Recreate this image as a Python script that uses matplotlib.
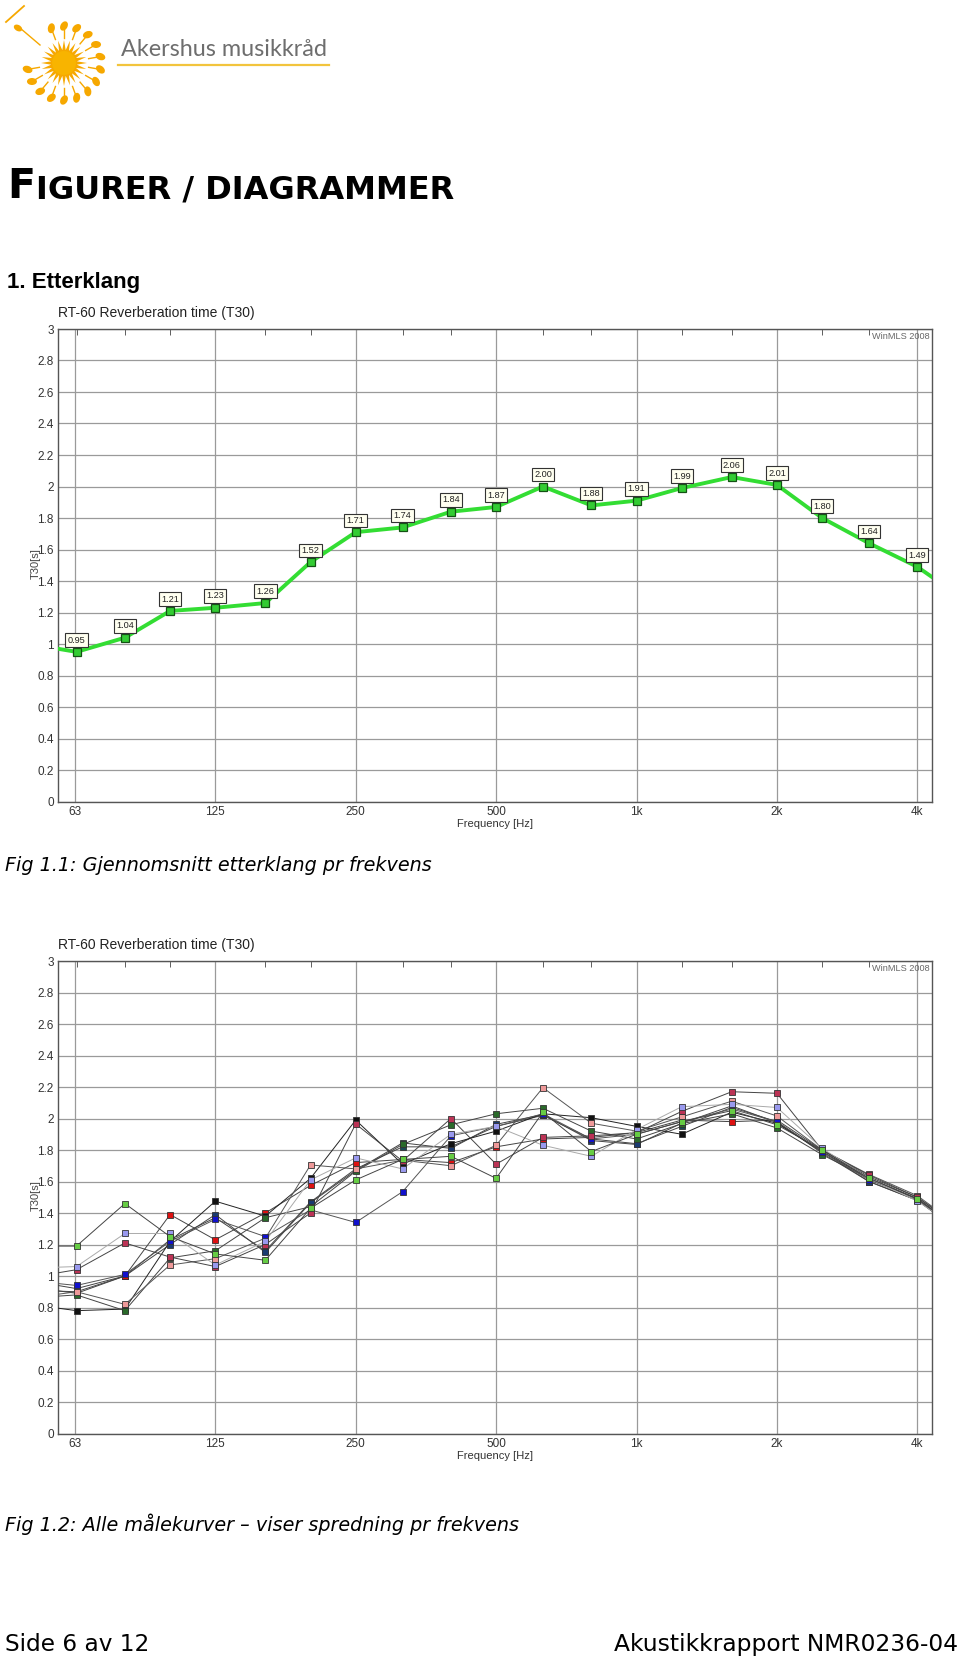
import numpy as np
import matplotlib
matplotlib.use("Agg")
import matplotlib.pyplot as plt
from matplotlib.patches import Ellipse, Polygon

# 1/3-octave bands (50 Hz and 5 kHz only give the clipped line ends)
freqs = [50, 63, 80, 100, 125, 160, 200, 250, 315, 400, 500, 630, 800,
         1000, 1250, 1600, 2000, 2500, 3150, 4000, 5000]
oct_ticks = [62.5, 125, 250, 500, 1000, 2000, 4000]
oct_labels = ["63", "125", "250", "500", "1k", "2k", "4k"]

# Fig 1.1 - average T30
avg_t30 = [1.00, 0.95, 1.04, 1.21, 1.23, 1.26, 1.52, 1.71, 1.74, 1.84, 1.87,
           2.00, 1.88, 1.91, 1.99, 2.06, 2.01, 1.80, 1.64, 1.49, 1.29]

# Fig 1.2 - all measurement curves
light_green = [1.19, 1.19, 1.46, 1.25, 1.14, 1.10, 1.43, 1.61, 1.74, 1.76, 1.62,
               2.04, 1.79, 1.90, 1.98, 2.05, 1.96, 1.80, 1.62, 1.49, 1.28]
light_purple = [1.05, 1.06, 1.27, 1.27, 1.07, 1.22, 1.61, 1.75, 1.68, 1.90, 1.95,
                1.83, 1.76, 1.93, 2.075, 2.09, 2.07, 1.81, 1.62, 1.476, 1.28]
crimson = [0.99, 1.04, 1.21, 1.12, 1.06, 1.20, 1.40, 1.965, 1.73, 2.00, 1.71,
           1.88, 1.89, 1.91, 2.045, 2.17, 2.16, 1.80, 1.64, 1.50, 1.30]
blue = [0.97, 0.94, 1.01, 1.22, 1.36, 1.25, 1.42, 1.34, 1.535, 1.89, 1.95,
        2.03, 1.87, 1.90, 1.98, 2.06, 1.98, 1.79, 1.61, 1.49, 1.27]
salmon = [0.86, 0.90, 0.82, 1.07, 1.11, 1.24, 1.705, 1.68, 1.735, 1.70, 1.83,
          2.196, 1.97, 1.92, 2.01, 2.11, 2.016, 1.80, 1.645, 1.51, 1.30]
dark_green = [0.86, 0.88, 0.78, 1.115, 1.16, 1.37, 1.44, 1.665, 1.835, 1.96, 2.03,
              2.065, 1.92, 1.87, 1.967, 2.03, 1.94, 1.77, 1.62, 1.49, 1.28]
black = [0.82, 0.78, 0.79, 1.22, 1.475, 1.38, 1.62, 1.99, 1.71, 1.84, 1.92,
         2.03, 2.005, 1.95, 1.90, 2.04, 1.97, 1.79, 1.62, 1.49, 1.28]
red = [0.91, 0.90, 1.00, 1.39, 1.23, 1.40, 1.575, 1.72, 1.74, 1.72, 1.82,
       1.87, 1.88, 1.91, 1.99, 1.98, 1.99, 1.80, 1.63, 1.50, 1.29]
navy = [0.93, 0.89, 1.00, 1.20, 1.39, 1.15, 1.465, 1.67, 1.845, 1.81, 1.963,
        2.025, 1.86, 1.835, 1.97, 2.08, 1.974, 1.79, 1.60, 1.48, 1.27]
teal = [0.97, 0.92, 1.00, 1.23, 1.37, 1.16, 1.47, 1.68, 1.82, 1.82, 1.95,
        2.02, 1.87, 1.84, 1.95, 2.07, 1.98, 1.78, 1.60, 1.48, 1.27]

curves = [
    (teal, "#1a4a55", "#444444"),
    (navy, "#1a3a70", "#444444"),
    (red, "#dd1111", "#444444"),
    (black, "#111111", "#222222"),
    (dark_green, "#2a6a2a", "#444444"),
    (salmon, "#ee9999", "#555555"),
    (blue, "#1111cc", "#555555"),
    (crimson, "#bb3355", "#444444"),
    (light_purple, "#9999ee", "#aaaaaa"),
    (light_green, "#66cc44", "#444444"),
]

W, H = 960, 1660
fig = plt.figure(figsize=(W / 100, H / 100), dpi=100)


def fx(px):
    return px / W


def fy(py):
    return 1 - py / H


def setup_axes(top_px, bottom_px):
    ax = fig.add_axes([fx(58), fy(bottom_px), fx(932 - 58), (bottom_px - top_px) / H])
    ax.set_xscale("log")
    ax.set_xlim(57.5, 4300)
    ax.set_ylim(0, 3)
    ax.set_yticks(np.arange(0, 3.01, 0.2))
    ax.set_yticklabels(["0", "0.2", "0.4", "0.6", "0.8", "1", "1.2", "1.4", "1.6",
                        "1.8", "2", "2.2", "2.4", "2.6", "2.8", "3"])
    ax.set_xticks(oct_ticks)
    ax.set_xticklabels(oct_labels)
    ax.set_xticks(freqs[1:-1], minor=True)
    ax.xaxis.set_minor_formatter(plt.NullFormatter())
    ax.tick_params(axis="both", which="major", length=0, labelsize=8.5,
                   labelcolor="#333333", pad=3)
    ax.tick_params(axis="x", which="minor", bottom=False, top=True,
                   direction="in", length=4, color="#444444")
    for lab in ax.get_xticklabels() + ax.get_yticklabels():
        lab.set_family("Liberation Sans")
    ax.grid(True, which="major", color="#9a9a9a", lw=0.9)
    ax.set_axisbelow(True)
    for s in ax.spines.values():
        s.set_color("#555555")
        s.set_linewidth(1.0)
    ax.set_xlabel("Frequency [Hz]", fontsize=8, family="Liberation Sans",
                  color="#333333", labelpad=1)
    # sits on top of the "1.6" label, as in the source plot
    ax.text(-0.025, 0.503, "T30[s]", transform=ax.transAxes, rotation=90,
            fontsize=8, family="Liberation Sans", color="#444444",
            ha="center", va="center")
    ax.text(0, 1.02, "RT-60 Reverberation time (T30)", transform=ax.transAxes,
            fontsize=10, family="Liberation Sans", color="#222222",
            ha="left", va="bottom")
    ax.text(0.931, 0.994, "WinMLS 2008 LS", transform=ax.transAxes,
            fontsize=6.6, family="Liberation Sans", color="#666666",
            ha="left", va="top", clip_on=True)
    return ax


# ---- top chart: average ----
ax1 = setup_axes(329, 801.5)
ax1.plot(freqs, avg_t30, color="#33dd33", lw=2.8, zorder=3)
ax1.plot(freqs[1:-1], avg_t30[1:-1], ls="none", marker="s", ms=5.5,
         mfc="#33cc33", mec="#145214", mew=0.9, zorder=4)
for f, v in zip(freqs[1:-1], avg_t30[1:-1]):
    ax1.annotate(f"{v:.2f}", (f, v), xytext=(0, 8.5), textcoords="offset points",
                 ha="center", va="center", fontsize=6.6, family="Liberation Sans",
                 color="#222222", zorder=5,
                 bbox=dict(boxstyle="square,pad=0.25", fc="#fffff0",
                           ec="#333333", lw=0.8))

# ---- bottom chart: all curves ----
ax2 = setup_axes(961, 1433.5)
for vals, mcol, lcol in curves:
    ax2.plot(freqs, vals, color=lcol, lw=0.7, zorder=3)
    ax2.plot(freqs[1:-1], vals[1:-1], ls="none", marker="s", ms=5,
             mfc=mcol, mec="#333333", mew=0.6, zorder=4)

# ---- page text ----
fig.text(fx(121), fy(56), "Akershus musikkråd", fontsize=16.8, family="Lato",
         color="#6e6e6e", ha="left", va="baseline")
fig.add_artist(plt.Line2D([fx(118), fx(329)], [fy(65), fy(65)],
                          color="#f2c43c", lw=1.6))

t_f = fig.text(fx(7), fy(198), "F", fontsize=29.5, fontweight="bold",
               family="DejaVu Sans", ha="left", va="baseline")
fig.canvas.draw()
bb = t_f.get_window_extent()
fig.text((bb.x1 + 1) / W, fy(198), "IGURER / DIAGRAMMER", fontsize=23,
         fontweight="bold", family="DejaVu Sans", ha="left", va="baseline")

fig.text(fx(7), fy(288), "1. Etterklang", fontsize=16, fontweight="bold",
         family="Liberation Sans", ha="left", va="baseline")
fig.text(fx(5), fy(865), "Fig 1.1: Gjennomsnitt etterklang pr frekvens",
         fontsize=13.8, style="italic", family="DejaVu Sans", ha="left",
         va="center")
fig.text(fx(5), fy(1524), "Fig 1.2: Alle målekurver – viser spredning pr frekvens",
         fontsize=13.8, style="italic", family="DejaVu Sans", ha="left",
         va="center")
fig.text(fx(5), fy(1644), "Side 6 av 12", fontsize=16.7, family="DejaVu Sans",
         ha="left", va="center")
fig.text(fx(958), fy(1644), "Akustikkrapport NMR0236-04", fontsize=16.8,
         family="DejaVu Sans", ha="right", va="center")

# ---- logo ----
lax = fig.add_axes([0, fy(110), fx(110), 110 / H])
lax.set_xlim(0, 110)
lax.set_ylim(110, 0)
lax.axis("off")
sun = "#f6a800"
cx, cy = 64, 63
ang = np.linspace(0, 2 * np.pi, 48, endpoint=False)
rad = np.where(np.arange(48) % 2 == 0, 23, 13)
lax.add_patch(Polygon(np.c_[cx + rad * np.cos(ang), cy + rad * np.sin(ang)],
                      closed=True, color=sun, lw=0))
lax.add_patch(Ellipse((cx, cy), 24, 24, color="#f8b400", lw=0))
for a in np.deg2rad(np.arange(-110, 190, 20)):
    r = 37
    hx, hy = cx + r * np.cos(a), cy + r * np.sin(a)
    lax.plot([cx + 25 * np.cos(a), hx - 3 * np.cos(a)],
             [cy + 25 * np.sin(a), hy - 3 * np.sin(a)], color=sun, lw=1.0)
    lax.add_patch(Ellipse((hx, hy), 10, 7, angle=np.rad2deg(a) + 30,
                          color=sun, lw=0))
lax.plot([6, 24], [22, 6], color=sun, lw=1.3)
lax.plot([20, 40], [28, 45], color=sun, lw=1.0)
lax.add_patch(Ellipse((18, 28), 9, 6, angle=30, color=sun, lw=0))

fig.savefig("out.png", dpi=100)
